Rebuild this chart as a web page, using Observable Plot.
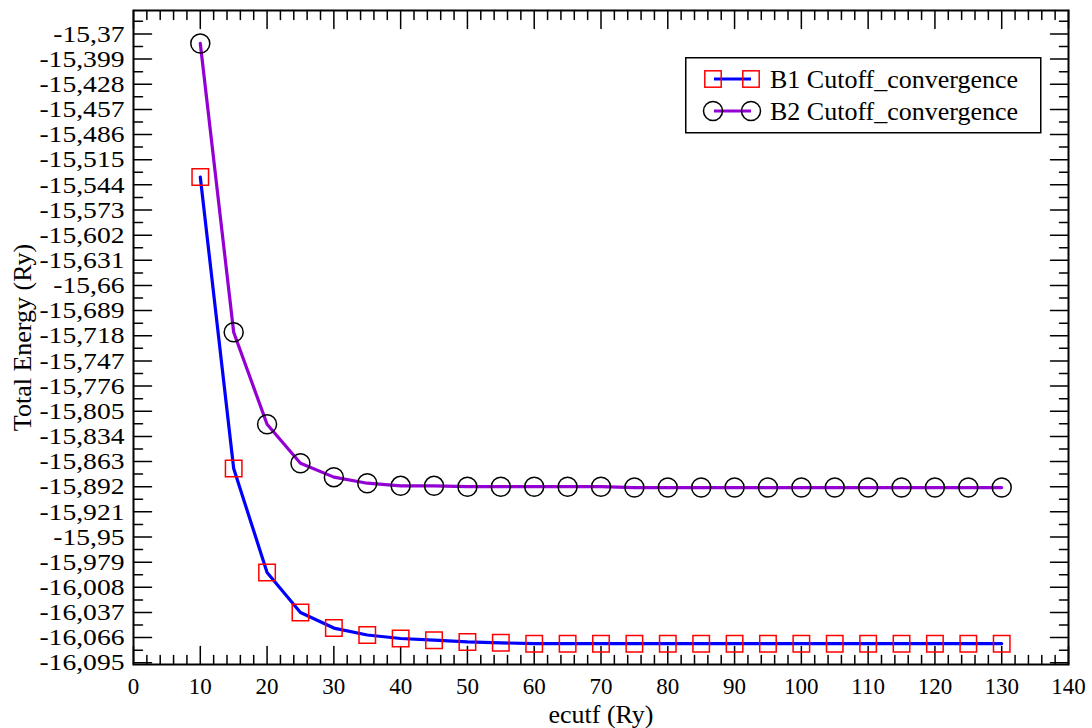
<!DOCTYPE html>
<html>
<head>
<meta charset="utf-8">
<script src="https://cdn.jsdelivr.net/npm/d3@7"></script>
<script src="https://cdn.jsdelivr.net/npm/@observablehq/plot@0.6"></script>
<style>
  html, body { margin: 0; padding: 0; background: #fff; }
  #wrap { position: relative; width: 1092px; height: 728px; }
  #wrap svg text { font-family: "Liberation Serif", "Times New Roman", Times, "DejaVu Serif", serif; }
  #legend { position: absolute; left: 685px; top: 57px; }
</style>
</head>
<body>
<div id="wrap"></div>
<script>
// ---- data ----
const ecutf = [10, 15, 20, 25, 30, 35, 40, 45, 50, 55, 60, 65, 70, 75, 80, 85, 90, 95, 100, 105, 110, 115, 120, 125, 130];
const b1Energy = [-15.535, -15.871, -15.991, -16.037, -16.055, -16.063, -16.067, -16.069, -16.071, -16.072, -16.073, -16.073, -16.073,
  -16.073, -16.073, -16.073, -16.073, -16.073, -16.073, -16.073, -16.073, -16.073, -16.073, -16.073, -16.073];
const b2Energy = [-15.381, -15.714, -15.820, -15.865, -15.881, -15.888, -15.891, -15.891, -15.892, -15.892, -15.892, -15.892, -15.892,
  -15.893, -15.893, -15.893, -15.893, -15.893, -15.893, -15.893, -15.893, -15.893, -15.893, -15.893, -15.893];
const seriesNames = ["B1 Cutoff_convergence", "B2 Cutoff_convergence"];
const yTicks = [-15.37, -15.399, -15.428, -15.457, -15.486, -15.515, -15.544, -15.573, -15.602, -15.631, -15.66, -15.689,
  -15.718, -15.747, -15.776, -15.805, -15.834, -15.863, -15.892, -15.921, -15.95, -15.979, -16.008, -16.037, -16.066, -16.095];
const yTickLabels = ["-15,37", "-15,399", "-15,428", "-15,457", "-15,486", "-15,515", "-15,544", "-15,573", "-15,602", "-15,631",
  "-15,66", "-15,689", "-15,718", "-15,747", "-15,776", "-15,805", "-15,834", "-15,863", "-15,892", "-15,921", "-15,95",
  "-15,979", "-16,008", "-16,037", "-16,066", "-16,095"];
const xTicks = [0, 10, 20, 30, 40, 50, 60, 70, 80, 90, 100, 110, 120, 130, 140];
const xTickLabels = ["0", "10", "20", "30", "40", "50", "60", "70", "80", "90", "100", "110", "120", "130", "140"];
const xTitle = "ecutf (Ry)";
const yTitle = "Total Energy (Ry)";

// ---- derived tables ----
const b1 = ecutf.map((x, i) => ({x, y: b1Energy[i]}));
const b2 = ecutf.map((x, i) => ({x, y: b2Energy[i]}));
const yDomain = [-16.097, -15.343];
const xDomain = [0, 140];
const yMinor = yTicks.map(v => v + 0.0145).filter(v => v <= yDomain[1] && v >= yDomain[0]);
const xMinor = d3.range(0, 141, 2).filter(v => v % 10 !== 0);
const yLabelOf = new Map(yTicks.map((v, i) => [v, yTickLabels[i]]));
const xLabelOf = new Map(xTicks.map((v, i) => [v, xTickLabels[i]]));

const tickShape = { draw(context, l) { context.moveTo(0, 0); context.lineTo(0, -l); } };
function tickMarks(values, channel, side, len) {
  const rot = {left: 90, right: -90, top: 180, bottom: 0}[side];
  const opts = {frameAnchor: side, rotate: rot, length: len, anchor: "start", shape: tickShape,
    stroke: "black", strokeWidth: 1.5};
  opts[channel] = d => d;
  return Plot.vector(values, opts);
}

const blue = "#0000ff", violet = "#9400d3", red = "#ff0000";
const font = "Liberation Serif, Times New Roman, Times, DejaVu Serif, serif";

const chart = Plot.plot({
  width: 1092,
  height: 728,
  marginLeft: 133,
  marginRight: 24,
  marginTop: 10,
  marginBottom: 64,
  x: {domain: xDomain},
  y: {domain: yDomain},
  style: {fontFamily: font, background: "white", color: "black"},
  marks: [
    Plot.axisY({ticks: yTicks, tickSize: 0, tickPadding: 9, fontSize: 24, tickFormat: d => yLabelOf.get(d), label: null}),
    Plot.axisX({ticks: xTicks, tickSize: 0, tickPadding: 13, fontSize: 23, tickFormat: d => xLabelOf.get(d), label: null}),
    tickMarks(yTicks, "y", "left", 18),
    tickMarks(yTicks, "y", "right", 18),
    tickMarks(yMinor, "y", "left", 9),
    tickMarks(yMinor, "y", "right", 9),
    tickMarks(xTicks, "x", "bottom", 18),
    tickMarks(xTicks, "x", "top", 18),
    tickMarks(xMinor, "x", "bottom", 9),
    tickMarks(xMinor, "x", "top", 9),
    Plot.line(b1, {x: "x", y: "y", stroke: blue, strokeWidth: 3.2}),
    Plot.line(b2, {x: "x", y: "y", stroke: violet, strokeWidth: 3.2}),
    Plot.dot(b1, {x: "x", y: "y", symbol: "square", r: 9.3, stroke: red, strokeWidth: 1.5, fill: "none"}),
    Plot.dot(b2, {x: "x", y: "y", symbol: "circle", r: 9.5, stroke: "black", strokeWidth: 1.5, fill: "none"}),
    Plot.frame({stroke: "black", strokeWidth: 2}),
    Plot.text([yTitle], {text: d => d, frameAnchor: "left", dx: -111, rotate: -90, fontSize: 26, textAnchor: "middle", lineAnchor: "middle", fill: "black"}),
    Plot.text([xTitle], {text: d => d, frameAnchor: "bottom", dy: 50, fontSize: 26, textAnchor: "middle", lineAnchor: "middle", fill: "black"})
  ]
});
document.getElementById("wrap").appendChild(chart);

// widen the y tick labels a little (the original's labels are horizontally stretched)
chart.querySelectorAll('g[aria-label="y-axis tick label"] text').forEach(t => {
  const tr = t.getAttribute("transform");
  if (tr) {
    t.setAttribute("transform", tr + " scale(1.15,1)");
  } else {
    const x = +t.getAttribute("x") || 0;
    t.setAttribute("transform", `translate(${x},0) scale(1.15,1) translate(${-x},0)`);
  }
});

// ---- legend (inside the plot area, top right) ----
const lg = d3.select("#wrap").append("svg").attr("id", "legend")
  .attr("width", 357).attr("height", 77);
lg.append("rect").attr("x", 0.75).attr("y", 0.75).attr("width", 355).attr("height", 75)
  .attr("fill", "white").attr("stroke", "black").attr("stroke-width", 1.5);
const legendRows = [
  {name: seriesNames[0], line: blue, sym: "square", symStroke: red, y: 22},
  {name: seriesNames[1], line: violet, sym: "circle", symStroke: "black", y: 54}
];
for (const r of legendRows) {
  lg.append("line").attr("x1", 29).attr("x2", 66).attr("y1", r.y).attr("y2", r.y)
    .attr("stroke", r.line).attr("stroke-width", 3.2);
  for (const cx of [28, 66]) {
    if (r.sym === "square") {
      lg.append("rect").attr("x", cx - 8.2).attr("y", r.y - 8.2).attr("width", 16.4).attr("height", 16.4)
        .attr("fill", "none").attr("stroke", r.symStroke).attr("stroke-width", 1.5);
    } else {
      lg.append("circle").attr("cx", cx).attr("cy", r.y).attr("r", 9.5)
        .attr("fill", "none").attr("stroke", r.symStroke).attr("stroke-width", 1.5);
    }
  }
  lg.append("text").attr("x", 85).attr("y", r.y).attr("dy", "0.35em")
    .attr("font-size", 26).attr("fill", "black").text(r.name);
}
</script>
</body>
</html>
